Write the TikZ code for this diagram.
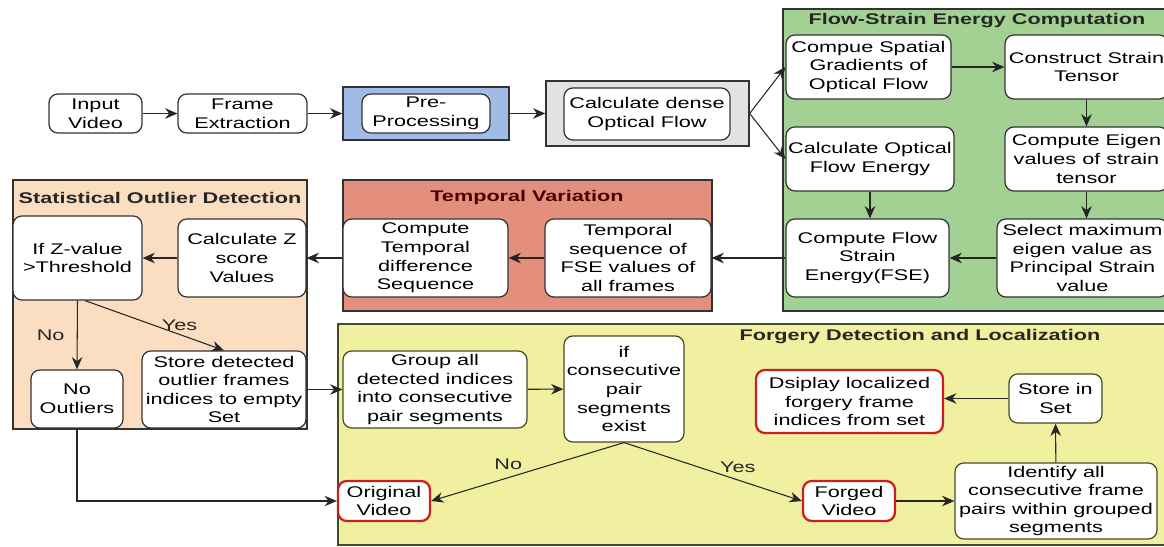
\documentclass[tikz,border=0pt]{standalone}
\usepackage{fontspec}
\setmainfont{Liberation Sans}[FakeStretch=1.4]
\usetikzlibrary{arrows.meta}
\definecolor{peachbg}{RGB}{251,221,194}
\definecolor{redbg}{RGB}{228,142,126}
\definecolor{greenbg}{RGB}{162,209,147}
\definecolor{yellowbg}{RGB}{241,239,160}
\definecolor{bluebg}{RGB}{160,188,230}
\definecolor{graybg}{RGB}{226,226,226}
\definecolor{olivedark}{RGB}{70,76,40}
\definecolor{alertred}{RGB}{200,32,32}
\tikzset{
  procbox/.style={
    rectangle,
    rounded corners=5pt,
    draw=black!80,
    line width=0.7pt,
    fill=white,
    align=center,
    inner sep=1pt,
    font=\fontsize{8.8}{10.6}\selectfont
  },
  yellowbox/.style={procbox, draw=olivedark},
  alertbox/.style={procbox, draw=alertred, line width=1.3pt},
  panel/.style={draw=black!80, line width=0.8pt},
  paneltitle/.style={font=\fontsize{8.8}{10.6}\selectfont\bfseries, text=black!85, inner sep=1pt},
  flowlabel/.style={font=\fontsize{8.8}{10.6}\selectfont, inner sep=2pt},
  flowline/.style={-{Stealth[length=7pt,width=6pt]}, line width=0.6pt, black!85}
}

\begin{document}
\begin{tikzpicture}[x=0.02cm, y=-0.02cm]
  \useasboundingbox (0,0) rectangle (1164,547);
  % panels
  \draw[panel, fill=greenbg] (783,9) rectangle (1175,311);
  \draw[panel, fill=peachbg] (13,180) rectangle (307,429);
  \draw[panel, fill=redbg] (343,180) rectangle (712,311);
  \draw[panel, draw=olivedark, fill=yellowbg] (338,324) rectangle (1175,545);
  \node[paneltitle] (fsetitle) at (977,21) {Flow-Strain Energy Computation};
  \node[paneltitle] (outtitle) at (160,198) {Statistical Outlier Detection};
  \node[paneltitle, text=black!70!red] (temptitle) at (527,198) {Temporal Variation};
  \node[paneltitle] (forgtitle) at (920,337) {Forgery Detection and Localization};

  % top row
  \node[procbox, minimum width=1.86cm, minimum height=0.78cm] (input) at (95.5,113.5) {Input\\Video};
  \node[procbox, minimum width=2.58cm, minimum height=0.78cm] (frames) at (242.5,113.5) {Frame\\Extraction};
  \node[panel, fill=bluebg, minimum width=3.32cm, minimum height=1.06cm] (prebg) at (426,113.5) {};
  \node[procbox, minimum width=2.56cm, minimum height=0.78cm] (pre) at (426,113.5) {Pre-\\Processing};
  \node[panel, fill=graybg, minimum width=4.06cm, minimum height=1.30cm] (flowbg) at (647.5,113.5) {};
  \node[procbox, minimum width=3.32cm, minimum height=1.04cm] (dense) at (647,114) {Calculate dense\\Optical Flow};

  % flow-strain energy
  \node[procbox, minimum width=3.30cm, minimum height=1.28cm] (grad) at (868.5,67) {Compue Spatial\\Gradients of\\Optical Flow};
  \node[procbox, minimum width=3.26cm, minimum height=1.28cm] (tensor) at (1086.5,67) {Construct Strain\\Tensor};
  \node[procbox, minimum width=3.36cm, minimum height=1.28cm] (energy) at (870,159) {Calculate Optical\\Flow Energy};
  \node[procbox, minimum width=3.26cm, minimum height=1.28cm] (eigen) at (1086.5,159) {Compute Eigen\\values of strain\\tensor};
  \node[procbox, minimum width=3.26cm, minimum height=1.56cm] (fse) at (867.5,258) {Compute Flow\\Strain\\Energy(FSE)};
  \node[procbox, minimum width=3.42cm, minimum height=1.56cm] (select) at (1082.5,258) {Select maximum\\eigen value as\\Principal Strain\\value};

  % temporal variation
  \node[procbox, minimum width=3.30cm, minimum height=1.56cm] (tempdiff) at (425.5,258) {Compute\\Temporal\\difference\\Sequence};
  \node[procbox, minimum width=3.32cm, minimum height=1.56cm] (tempseq) at (628,258) {Temporal\\sequence of\\FSE values of\\all frames};

  % outlier detection
  \node[procbox, minimum width=2.58cm, minimum height=1.68cm] (ifz) at (77.5,258) {If Z-value\\>Threshold};
  \node[procbox, minimum width=2.56cm, minimum height=1.56cm] (zscore) at (242,258) {Calculate Z\\score\\Values};
  \node[procbox, minimum width=1.84cm, minimum height=1.16cm] (noout) at (77,399) {No\\Outliers};
  \node[procbox, minimum width=3.28cm, minimum height=1.54cm] (store) at (224,389.5) {Store detected\\outlier frames\\indices to empty\\Set};

  % forgery detection
  \node[yellowbox, minimum width=3.68cm, minimum height=1.54cm] (group) at (435,389.5) {Group all\\detected indices\\into consecutive\\pair segments};
  \node[yellowbox, minimum width=2.40cm, minimum height=2.12cm] (ifpair) at (624,389) {if\\consecutive\\pair\\segments\\exist};
  \node[alertbox, minimum width=3.74cm, minimum height=1.26cm] (show) at (849.5,401.5) {Dsiplay localized\\forgery frame\\indices from set};
  \node[yellowbox, minimum width=1.86cm, minimum height=0.98cm] (setstore) at (1055.5,398.5) {Store in\\Set};
  \node[alertbox, minimum width=1.84cm, minimum height=0.80cm] (orig) at (384,501) {Original\\Video};
  \node[alertbox, minimum width=1.84cm, minimum height=0.80cm] (forged) at (849,501) {Forged\\Video};
  \node[yellowbox, minimum width=4.04cm, minimum height=1.52cm] (pairs) at (1056,501) {Identify all\\consecutive frame\\pairs within grouped\\segments};

  % connectors
  \draw[flowline] (input) -- (frames);
  \draw[flowline] (frames) -- (prebg);
  \draw[flowline] (prebg) -- (flowbg);
  \draw[flowline] (flowbg.east) -- (grad.west);
  \draw[flowline] (flowbg.east) -- (energy.west);
  \draw[flowline] (grad) -- (tensor);
  \draw[flowline] (tensor.south) -- (tensor.south |- eigen.north);
  \draw[flowline] (eigen.south) -- (eigen.south |- select.north);
  \draw[flowline] (energy.south) -- (energy.south |- fse.north);
  \draw[flowline] (select) -- (fse);
  \draw[flowline] (fse) -- (tempseq);
  \draw[flowline] (tempseq) -- (tempdiff);
  \draw[flowline] (tempdiff) -- (zscore);
  \draw[flowline] (zscore) -- (ifz);
  \draw[flowline] (ifz.south) -- node[flowlabel, left=5pt]{No} (noout.north);
  \draw[flowline] (ifz.-80) -- node[flowlabel, pos=0.68, above]{Yes} (store.north);
  \draw[flowline] (noout.south) |- (orig.west);
  \draw[flowline] (store.east) -- (store.east -| group.west);
  \draw[flowline] (group) -- (ifpair);
  \draw[flowline] (ifpair.south) -- node[flowlabel, pos=0.6, above=2pt]{No} (orig.east);
  \draw[flowline] (ifpair.south) -- node[flowlabel, pos=0.64, above=2pt]{Yes} (forged.west);
  \draw[flowline] (forged) -- (pairs);
  \draw[flowline] (pairs) -- (setstore);
  \draw[flowline] (setstore.west) -- (setstore.west -| show.east);
\end{tikzpicture}
\end{document}
